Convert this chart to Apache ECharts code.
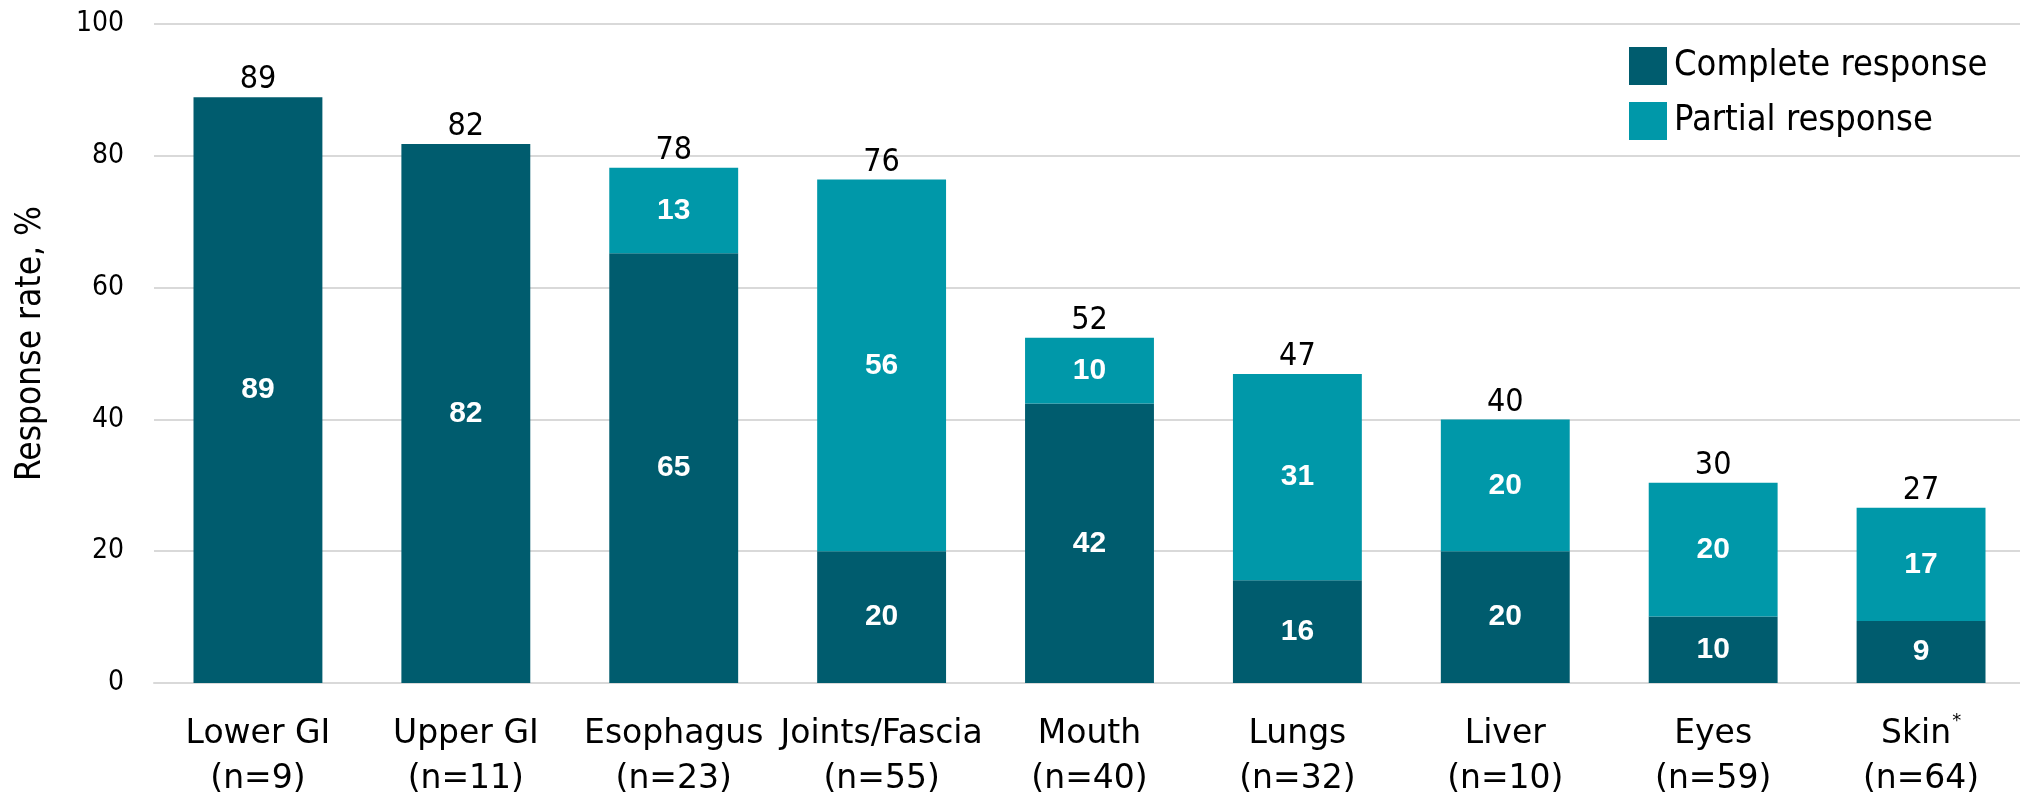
<!DOCTYPE html>
<html>
<head>
<meta charset="utf-8">
<script src="https://cdn.jsdelivr.net/npm/echarts@6/dist/echarts.min.js"></script>
<style>
html,body{margin:0;padding:0;background:#fff;}
#chart{width:2020px;height:796px;}
</style>
</head>
<body>
<div id="chart"></div>
<script>
const categories = ['Lower GI', 'Upper GI', 'Esophagus', 'Joints/Fascia', 'Mouth', 'Lungs', 'Liver', 'Eyes', 'Skin'];
const sampleSizes = [9, 11, 23, 55, 40, 32, 10, 59, 64];
const footnoteMarks = ['', '', '', '', '', '', '', '', '*'];
const completeResponse = [88.9, 81.8, 65.2, 20.0, 42.4, 15.6, 20.0, 10.1, 9.4];
const partialResponse = [0, 0, 13.0, 56.4, 10.0, 31.3, 20.0, 20.3, 17.2];
const totalResponse = [89, 82, 78, 76, 52, 47, 40, 30, 27];
const yTicks = [0, 20, 40, 60, 80, 100];

const FONT = '"DejaVu Sans Condensed", "DejaVu Sans", sans-serif';
const CATFONT = '"DejaVu Sans", sans-serif';
const BOLD = '"Liberation Sans", Arial, sans-serif';
const DARK = '#005C6E';
const LIGHT = '#0098A9';

const chart = echarts.init(document.getElementById('chart'));
chart.setOption({
  animation: false,
  backgroundColor: '#fff',
  grid: { left: 154, right: -5, top: 24, bottom: 113, containLabel: false, outerBoundsMode: 'none' },
  legend: {
    orient: 'vertical',
    left: 1624,
    top: 42,
    itemWidth: 38,
    itemHeight: 38,
    itemGap: 17,
    icon: 'rect',
    data: ['Complete response', 'Partial response'],
    textStyle: { fontFamily: FONT, fontSize: 36, color: '#000', padding: [0, 0, 0, 2] }
  },
  xAxis: {
    type: 'category',
    data: categories,
    axisLine: { show: true, lineStyle: { color: '#D9D9D9', width: 2 } },
    axisTick: { show: false },
    axisLabel: {
      interval: 0,
      margin: 29,
      fontFamily: CATFONT,
      fontSize: 33,
      color: '#000',
      lineHeight: 45,
      formatter: function (value, idx) {
        const mark = footnoteMarks[idx] ? '{sup|' + footnoteMarks[idx] + '}' : '';
        return '{t|' + value + '}' + mark + '\n{t|(n=' + sampleSizes[idx] + ')}';
      },
      rich: {
        t: { fontFamily: CATFONT, fontSize: 33, color: '#000', lineHeight: 45 },
        sup: { fontFamily: CATFONT, fontSize: 18, color: '#000', lineHeight: 45, verticalAlign: 'top', padding: [0, 0, 14, 1] }
      }
    }
  },
  yAxis: {
    type: 'value',
    min: 0,
    max: 100,
    interval: 20,
    name: 'Response rate, %',
    nameLocation: 'middle',
    nameGap: 106,
    nameTextStyle: { fontFamily: FONT, fontSize: 35, color: '#000', padding: [0, 0, 0, 20] },
    axisLine: { show: false },
    axisTick: { show: false },
    axisLabel: {
      margin: 30,
      fontFamily: FONT,
      fontSize: 28,
      color: '#000',
      formatter: function (v) { return yTicks.indexOf(v) >= 0 ? String(v) : ''; }
    },
    splitLine: { show: true, lineStyle: { color: '#D9D9D9', width: 2 } }
  },
  series: [
    {
      name: 'Complete response',
      type: 'bar',
      stack: 'resp',
      barWidth: '62%',
      itemStyle: { color: DARK },
      label: {
        show: true,
        position: 'inside',
        fontFamily: BOLD,
        fontWeight: 'bold',
        fontSize: 30,
        color: '#fff',
        formatter: function (p) { return p.value ? String(Math.round(p.value)) : ''; }
      },
      data: completeResponse
    },
    {
      name: 'Partial response',
      type: 'bar',
      stack: 'resp',
      barWidth: '62%',
      itemStyle: { color: LIGHT },
      label: {
        show: true,
        position: 'inside',
        fontFamily: BOLD,
        fontWeight: 'bold',
        fontSize: 30,
        color: '#fff',
        formatter: function (p) { return p.value ? String(Math.round(p.value)) : ''; }
      },
      data: partialResponse
    },
    {
      name: 'Total',
      type: 'bar',
      stack: 'resp',
      barWidth: '62%',
      itemStyle: { color: 'transparent' },
      silent: true,
      label: {
        show: true,
        position: 'top',
        distance: 1,
        fontFamily: FONT,
        fontSize: 32,
        color: '#000',
        formatter: function (p) { return String(totalResponse[p.dataIndex]); }
      },
      data: totalResponse.map(function () { return 0; })
    }
  ]
});
</script>
</body>
</html>
